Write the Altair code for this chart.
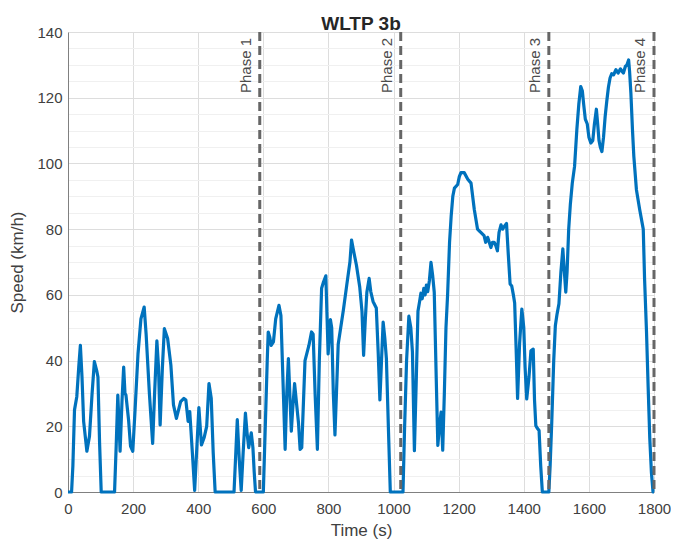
import altair as alt
import pandas as pd

# WLTP class 3b speed trace
time_s = [
    0, 11, 15, 20, 27, 33, 38, 43, 48, 58, 66, 74, 81, 88, 92, 97, 102,
    143, 148, 153, 157, 160, 166, 171, 175, 178, 186, 192, 199, 206, 215, 224, 234,
    240, 250, 260, 266, 273, 278, 283, 290, 296, 306, 316, 324, 333, 346, 356,
    362, 369, 374, 382, 389, 396, 402, 410, 418, 426, 433, 440, 446, 452,
    510, 515, 520, 526, 532, 538, 545, 550, 555, 563, 568, 572, 576, 589,
    600, 606, 612, 615, 620, 624, 631, 638, 648, 654, 660, 667, 672, 677, 686,
    690, 696, 702, 708, 713, 718, 728, 740, 748, 753, 759, 766, 772, 779, 785,
    792, 799, 806, 810, 815, 820, 830, 846, 856, 866, 871, 876, 886, 896, 903,
    908, 913, 918, 925, 930, 937, 947, 953, 958, 963, 968, 973, 978, 984, 990,
    1022, 1029, 1034, 1040, 1047, 1053, 1058, 1064, 1070, 1075, 1080, 1084,
    1088, 1093, 1097, 1101, 1105, 1110, 1115, 1120, 1125, 1131, 1136, 1141,
    1146, 1151, 1156, 1161, 1166, 1172, 1177, 1182, 1187, 1197, 1202, 1207,
    1217, 1228, 1238, 1248, 1258, 1263, 1268, 1278, 1283, 1289, 1294, 1299,
    1304, 1309, 1314, 1319, 1324, 1330, 1335, 1340, 1347, 1352, 1358, 1363,
    1368, 1372, 1377, 1381, 1387, 1394, 1400, 1404, 1409, 1416, 1422, 1429,
    1433, 1437, 1441, 1447, 1452, 1457, 1477,
    1481, 1486, 1492, 1497, 1502, 1508, 1514, 1520, 1524, 1529, 1533, 1538,
    1543, 1549, 1556, 1563, 1569, 1575, 1580, 1584, 1589, 1595, 1600, 1606,
    1612, 1617, 1623, 1627, 1631, 1635, 1640, 1645, 1650, 1655, 1660, 1665,
    1670, 1676, 1683, 1690, 1697, 1702, 1706, 1712, 1717, 1722, 1725, 1729,
    1734, 1738, 1746, 1756, 1767, 1771, 1777, 1782, 1787, 1792, 1797, 1800,
]
speed_kmh = [
    0, 0, 8, 25, 29, 38, 44.6, 35, 21.5, 12.4, 17, 30, 39.7, 37, 35, 15, 0,
    0, 14, 29.5, 20, 12.4, 28, 38, 30, 29.5, 22, 14, 12.4, 25, 42, 52.7, 56.3,
    48, 30, 14.8, 30, 46, 38, 20.4, 38, 49.7, 46.7, 38.6, 26.5, 22.4, 27.5, 28.5,
    28, 21.5, 24.5, 12, 0.5, 14, 25.7, 14.3, 16.5, 20, 33, 28.5, 12, 0,
    0, 11, 22, 10, 0.5, 12, 24, 18, 13.5, 18, 13.5, 6, 0, 0,
    0, 20, 40, 48.7, 47, 44.6, 45.7, 52.7, 56.8, 53.7, 35, 13, 30, 40.6, 18.5,
    25, 33, 27, 21, 13, 13.5, 40, 44.6, 48.7, 48, 30, 13, 40, 62, 64,
    65.8, 42, 52.5, 50, 30, 17.4, 45, 55.5, 62.8, 70, 76.7, 74, 69, 62.5, 55,
    41.6, 52, 60.8, 65, 61, 58, 56, 42, 28, 40, 51.7, 47, 40.6, 20, 0,
    0, 0, 20, 40, 53.5, 50, 42.6, 12.6, 35, 55, 58, 60.5,
    58.8, 62, 60, 63, 61, 64.3, 69.9, 66, 60.8, 35, 14.2, 20,
    24.3, 12.7, 30, 50, 60, 76, 84, 90, 92.5, 93.6, 96, 97.2,
    97.2, 95.2, 94, 86, 80, 79.5, 79, 78, 76, 77.5, 76, 74.4,
    76, 76, 75, 73.4, 79, 81.3, 80, 80.8, 81.7, 73, 63.3, 62.7,
    60, 57.5, 42, 28.5, 45, 55.7, 50, 38, 28.3, 35, 43, 43.5,
    28, 20.2, 19.5, 18.7, 8, 0, 0,
    8, 21.4, 40, 50.7, 54, 57.3, 66.9, 74, 68, 60.8, 67, 80,
    87.5, 94, 99.1, 110.3, 118, 123.4, 122, 118, 113.5, 112, 108, 106.2,
    107, 112, 116.5, 112, 107, 105, 103.6, 108, 114.3, 119, 123.2, 126,
    127.3, 127, 128.5, 127.5, 128.8, 128, 127.5, 129.5, 130, 131.5, 128, 121.4,
    110, 102.2, 92, 86, 80, 65, 48.7, 32, 16.4, 6, 0, 0,
]

phase_end = [589, 1022, 1477, 1800]
phase_name = ["Phase 1", "Phase 2", "Phase 3", "Phase 4"]

x_ticks = list(range(0, 1801, 50))
y_ticks = list(range(0, 141, 5))

FONT = "Liberation Sans"

cycle = pd.DataFrame({"t": time_s, "v": speed_kmh})
phases = pd.DataFrame({"t": phase_end, "label": phase_name})

x_scale = alt.Scale(domain=[0, 1800], nice=False, zero=False)
y_scale = alt.Scale(domain=[0, 140], nice=False)

common = dict(
    labelFont=FONT, titleFont=FONT, labelFontSize=15, titleFontSize=17,
    labelColor="#404040", titleColor="#404040", titleFontWeight="normal",
    gridWidth=1, tickSize=0, domainColor="#808080", labelFlush=False, format="d",
)

x_axis = alt.Axis(
    title="Time (s)",
    values=x_ticks,
    labelExpr="datum.value % 200 === 0 ? datum.label : ''",
    gridColor=alt.condition("datum.value % 200 === 0", alt.value("#dddddd"), alt.value("#f0f0f0")),
    labelPadding=9,
    titlePadding=6,
    **common,
)
y_axis = alt.Axis(
    title="Speed (km/h)",
    values=y_ticks,
    labelExpr="datum.value % 20 === 0 ? datum.label : ''",
    gridColor=alt.condition("datum.value % 20 === 0", alt.value("#dddddd"), alt.value("#f0f0f0")),
    labelPadding=6,
    titlePadding=10,
    **common,
)

line = alt.Chart(cycle).mark_line(color="#0072BD", strokeWidth=3.2, strokeJoin="round").encode(
    x=alt.X("t:Q", scale=x_scale, axis=x_axis),
    y=alt.Y("v:Q", scale=y_scale, axis=y_axis),
)

rules = alt.Chart(phases).mark_rule(color="#666666", strokeWidth=3, strokeDash=[9, 5]).encode(
    x=alt.X("t:Q", scale=x_scale),
)

labels = alt.Chart(phases).mark_text(
    angle=270, align="right", baseline="bottom", dy=-6,
    font=FONT, fontSize=15, color="#4d4d4d",
).encode(
    x=alt.X("t:Q", scale=x_scale),
    y=alt.value(6),
    text="label:N",
)

chart = (
    alt.layer(line, rules, labels)
    .properties(
        width=586,
        height=460,
        background="white",
        title=alt.TitleParams(
            "WLTP 3b", fontSize=19, fontWeight="bold", font=FONT, color="#262626",
            offset=0, dy=9, frame="group", anchor="middle",
        ),
        autosize=alt.AutoSizeParams(type="none"),
        padding={"left": 60, "top": 24, "right": 17, "bottom": 52},
    )
    .configure_view(stroke=None)
)

chart.save("out.html", embed_options={"renderer": "svg", "actions": False})
